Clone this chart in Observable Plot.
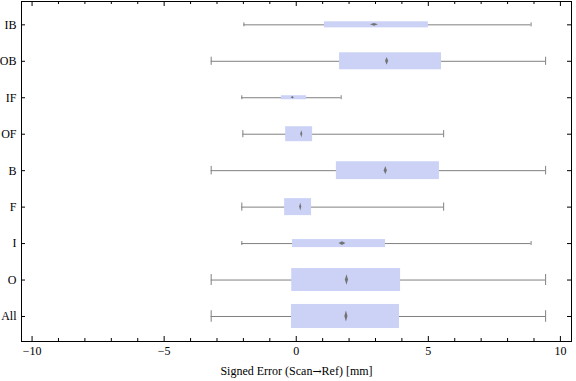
<!DOCTYPE html>
<html>
<head>
<meta charset="utf-8">
<script src="https://cdn.jsdelivr.net/npm/d3@7"></script>
<script src="https://cdn.jsdelivr.net/npm/@observablehq/plot@0.6"></script>
<style>
  html, body { margin: 0; padding: 0; background: #fff; }
  #chart svg { display: block; }
</style>
</head>
<body>
<div id="chart"></div>
<script>
// ---- data (top to bottom) ----
const categories = ["IB", "OB", "IF", "OF", "B", "F", "I", "O", "All"];
const whiskerLow  = [-1.98, -3.22, -2.06, -2.02, -3.22, -2.06, -2.06, -3.22, -3.22];
const q1          = [ 1.07,  1.64, -0.56, -0.40,  1.52, -0.44, -0.14, -0.17, -0.18];
const q3          = [ 5.00,  5.50,  0.39,  0.62,  5.42,  0.58,  3.38,  3.95,  3.91];
const whiskerHigh = [ 8.89,  9.44,  1.70,  5.58,  9.44,  5.58,  8.89,  9.44,  9.44];
const centerValue = [ 2.96,  3.44, -0.13,  0.21,  3.39,  0.17,  1.75,  1.92,  1.90];
const centerSpread= [ 0.15,  0.06,  0.06,  0.04,  0.06,  0.04,  0.13,  0.06,  0.06];
const sampleWeight= [ 0.165, 0.466, 0.11, 0.41, 0.49, 0.466, 0.22, 0.63, 0.66];
const xTickValues = [-10, -5, 0, 5, 10];
const xTickLabels = ["\u221210", "\u22125", "0", "5", "10"];
const xLabel = "Signed Error (Scan\u2192Ref) [mm]";

// ---- layout ----
const W = 576, H = 381, mL = 21, mR = 5, mT = 1, mB = 40;
const xDom = [-10.4, 10.42];
const yDom = [-0.686, 8.64];
const pxX = (xDom[1] - xDom[0]) / (W - mL - mR);
const pxY = (yDom[1] - yDom[0]) / (H - mT - mB);
const stepPx = 1 / pxY;
const n = categories.length;

const rows = categories.map((c, i) => {
  const y = n - 1 - i;
  const boxPx = sampleWeight[i] * stepPx;
  return {
    cat: c, y,
    lo: whiskerLow[i], q1: q1[i], q3: q3[i], hi: whiskerHigh[i], mid: centerValue[i],
    spread: centerSpread[i],
    hb: boxPx / 2 * pxY,
    cap: Math.max(0.24 * boxPx, 2) * pxY,
    dh: Math.max(0.23 * boxPx, 1.2) * pxY
  };
});

const diamond = rows.flatMap(r => [
  {key: r.cat, y: r.y - r.dh, x1: r.mid, x2: r.mid},
  {key: r.cat, y: r.y, x1: r.mid - r.spread, x2: r.mid + r.spread},
  {key: r.cat, y: r.y + r.dh, x1: r.mid, x2: r.mid}
]);

const minorTicks = d3.range(-10, 11).filter(v => v % 5 !== 0);
const serif = "'Liberation Serif', 'DejaVu Serif', serif";
const wColor = "#808080";

const chart = Plot.plot({
  width: W, height: H,
  marginLeft: mL, marginRight: mR, marginTop: mT, marginBottom: mB,
  x: {domain: xDom, axis: null},
  y: {domain: yDom, axis: null},
  style: {fontFamily: serif, fontSize: "12px", background: "white"},
  marks: [
    // whiskers
    Plot.ruleY(rows, {y: "y", x1: "lo", x2: "hi", stroke: wColor, strokeWidth: 1}),
    Plot.ruleX(rows, {x: "lo", y1: d => d.y - d.cap, y2: d => d.y + d.cap, stroke: wColor}),
    Plot.ruleX(rows, {x: "hi", y1: d => d.y - d.cap, y2: d => d.y + d.cap, stroke: wColor}),
    // boxes
    Plot.rect(rows, {x1: "q1", x2: "q3", y1: d => d.y - d.hb, y2: d => d.y + d.hb, fill: "#cbd2f6"}),
    // center diamonds
    Plot.areaX(diamond, {y: "y", x1: "x1", x2: "x2", z: "key", fill: "#737373"}),
    // frame
    Plot.frame({stroke: "black", strokeWidth: 1}),
    // x ticks bottom / top (inward)
    Plot.ruleX(xTickValues, {x: d => d, y1: yDom[0], y2: yDom[0] + 5 * pxY, stroke: "black"}),
    Plot.ruleX(minorTicks, {x: d => d, y1: yDom[0], y2: yDom[0] + 3 * pxY, stroke: "black"}),
    Plot.ruleX(xTickValues, {x: d => d, y1: yDom[1], y2: yDom[1] - 5 * pxY, stroke: "black"}),
    Plot.ruleX(minorTicks, {x: d => d, y1: yDom[1], y2: yDom[1] - 3 * pxY, stroke: "black"}),
    // y ticks left / right (inward)
    Plot.ruleY(rows, {y: "y", x1: xDom[0], x2: xDom[0] + 4 * pxX, stroke: "black"}),
    Plot.ruleY(rows, {y: "y", x1: xDom[1], x2: xDom[1] - 4 * pxX, stroke: "black"}),
    // labels
    Plot.text(rows, {x: xDom[0], y: "y", text: "cat", textAnchor: "end", dx: -5, fill: "black"}),
    Plot.text(xTickValues, {x: d => d, y: yDom[0], text: (d, i) => xTickLabels[i], dy: 10, fill: "black"}),
    Plot.text([xLabel], {x: (xDom[0] + xDom[1]) / 2, y: yDom[0], text: d => d, dy: 30, fill: "black"})
  ]
});

// render the arrow glyph in a font that has it at full size
d3.select(chart).selectAll("text").each(function() {
  const t = this.textContent;
  if (t === xLabel) {
    const parts = t.split("\u2192");
    const sel = d3.select(this);
    sel.text(null);
    sel.append("tspan").text(parts[0]);
    sel.append("tspan").style("font-family", "'DejaVu Serif', serif").style("font-size", "11px").text("\u2192");
    sel.append("tspan").text(parts[1]);
  }
});
document.getElementById("chart").appendChild(chart);
</script>
</body>
</html>
